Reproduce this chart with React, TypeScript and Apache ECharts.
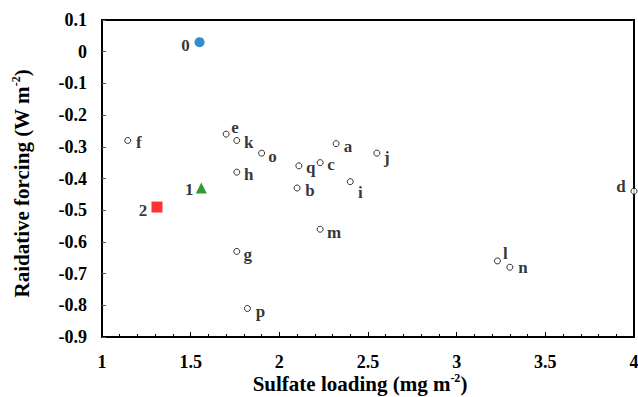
import React, { useEffect, useRef } from "react";
import * as echarts from "echarts";

// ---- data ----
const modelNames = ["a", "b", "c", "d", "e", "f", "g", "h", "i", "j", "k", "l", "m", "n", "o", "p", "q"];
const modelX = [2.32, 2.10, 2.23, 4.0, 1.70, 1.145, 1.76, 1.76, 2.40, 2.55, 1.76, 3.23, 2.23, 3.30, 1.90, 1.82, 2.11];
const modelY = [-0.29, -0.43, -0.35, -0.44, -0.26, -0.28, -0.63, -0.38, -0.41, -0.32, -0.28, -0.66, -0.56, -0.68, -0.32, -0.81, -0.36];

const case0 = { name: "0", x: 1.55, y: 0.03 };
const case1 = { name: "1", x: 1.56, y: -0.43 };
const case2 = { name: "2", x: 1.31, y: -0.49 };

const xTicks = { min: 1, max: 4, interval: 0.5 };
const yTicks = { min: -0.9, max: 0.1, interval: 0.1 };

// ---- label offsets (style only) ----
const labelOffsets: Record<string, [number, number]> = {
  a: [12, 3], b: [13, 2], c: [11, 2], d: [-13, -5], e: [9, -7], f: [11, 2],
  g: [11, 3], h: [12, 2], i: [10, 11], j: [10, 4], k: [12, 2], l: [8, -7],
  m: [14, 3], n: [13, 0], o: [11, 3], p: [13, 3], q: [12, 2],
  "0": [-14, 3], "1": [-12, 1], "2": [-14, 3],
};

const FONT = "Liberation Serif";

const labelStyle = (name: string) => ({
  show: true,
  position: "inside" as const,
  formatter: name,
  offset: labelOffsets[name],
  color: "#000",
  fontFamily: FONT,
  fontWeight: "bold" as const,
  fontSize: 17,
});

export default function App() {
  const ref = useRef<HTMLDivElement>(null);
  useEffect(() => {
    if (!ref.current) return;
    const chart = echarts.init(ref.current, null, { renderer: "svg" });
    const modelData = modelNames.map((n, i) => ({
      value: [modelX[i], modelY[i]],
      label: labelStyle(n),
    }));
    const tickLabel = {
      color: "#000",
      fontFamily: FONT,
      fontWeight: "bold" as const,
      fontSize: 18,
    };
    const titleRich = {
      t: { fontFamily: FONT, fontWeight: "bold" as const, fontSize: 21, color: "#000", lineHeight: 24 },
      s: { fontFamily: FONT, fontWeight: "bold" as const, fontSize: 12, color: "#000", verticalAlign: "top" as const, lineHeight: 12 },
    };
    chart.setOption({
      animation: false,
      backgroundColor: "#fff",
      textStyle: { fontFamily: FONT, fontWeight: "bold" },
      grid: {
        left: 102,
        right: 4,
        top: 20,
        bottom: 60,
        show: true,
        borderColor: "#000",
        borderWidth: 2,
        containLabel: false,
        outerBoundsMode: "none",
      },
      xAxis: {
        type: "value",
        min: xTicks.min,
        max: xTicks.max,
        interval: xTicks.interval,
        name: "{t|Sulfate loading (mg m}{s|-2}{t|)}",
        nameLocation: "middle",
        nameGap: 35,
        nameMoveOverlap: false,
        nameTextStyle: { fontFamily: FONT, fontWeight: "bold", fontSize: 21, color: "#000", rich: titleRich, padding: [0, 16, 0, 0] },
        axisLine: { show: true, onZero: false, lineStyle: { color: "#000", width: 2 } },
        axisTick: { show: true, inside: true, length: 5, lineStyle: { color: "#000", width: 1 } },
        minorTick: { show: true, splitNumber: 5, length: 3, lineStyle: { color: "#000", width: 1 } },
        splitLine: { show: false },
        axisLabel: { ...tickLabel, margin: 16, formatter: (v: number) => String(v) },
      },
      yAxis: {
        type: "value",
        min: yTicks.min,
        max: yTicks.max,
        interval: yTicks.interval,
        name: "{t|Raidative forcing (W m}{s|-2}{t|)}",
        nameLocation: "middle",
        nameRotate: 90,
        nameGap: 68,
        nameMoveOverlap: false,
        nameTextStyle: { fontFamily: FONT, fontWeight: "bold", fontSize: 21, color: "#000", rich: titleRich, padding: [0, 10, 0, 0] },
        axisLine: { show: true, onZero: false, lineStyle: { color: "#000", width: 2 } },
        axisTick: { show: true, inside: true, length: 4, lineStyle: { color: "#555", width: 1 } },
        splitLine: { show: false },
        axisLabel: {
          ...tickLabel,
          margin: 15,
          formatter: (v: number) => {
            const r = Math.round(v * 10) / 10;
            return r === 0 ? "0" : String(r);
          },
        },
      },
      series: [
        {
          type: "scatter",
          symbol: "circle",
          symbolSize: 6,
          itemStyle: { color: "#fff", borderColor: "#000", borderWidth: 1 },
          data: modelData,
          z: 3,
        },
        {
          type: "scatter",
          symbol: "circle",
          symbolSize: 10,
          itemStyle: { color: "#0070C0" },
          data: [{ value: [case0.x, case0.y], label: labelStyle(case0.name) }],
        },
        {
          type: "scatter",
          symbol: "triangle",
          symbolSize: 11,
          itemStyle: { color: "#008000" },
          data: [{ value: [case1.x, case1.y], label: labelStyle(case1.name) }],
        },
        {
          type: "scatter",
          symbol: "rect",
          symbolSize: 11,
          itemStyle: { color: "#FF0000" },
          data: [{ value: [case2.x, case2.y], label: labelStyle(case2.name) }],
        },
      ],
    });
    return () => chart.dispose();
  }, []);
  return (
    <div
      ref={ref}
      style={{ position: "absolute", left: 0, top: 0, width: 638, height: 397 }}
    />
  );
}
